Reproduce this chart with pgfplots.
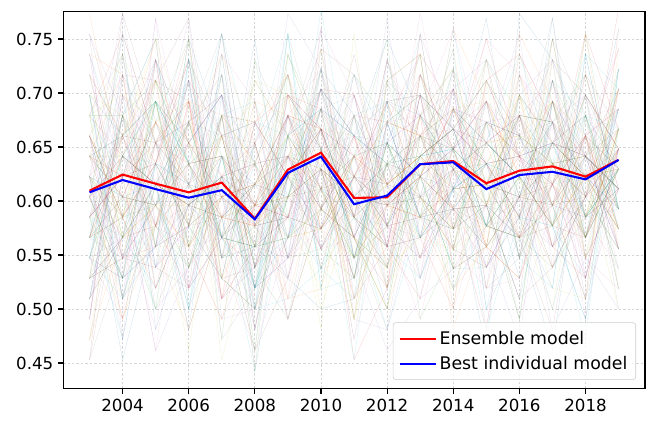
\documentclass[border=0pt]{standalone}
\usepackage{fontspec}
\setmainfont{DejaVu Sans}
\usepackage{pgfplots}
\usepackage{pgfplotstable}
\pgfplotsset{compat=1.18}
\definecolor{tab0}{HTML}{1F77B4}
\definecolor{tab1}{HTML}{FF7F0E}
\definecolor{tab2}{HTML}{2CA02C}
\definecolor{tab3}{HTML}{D62728}
\definecolor{tab4}{HTML}{9467BD}
\definecolor{tab5}{HTML}{8C564B}
\definecolor{tab6}{HTML}{E377C2}
\definecolor{tab7}{HTML}{7F7F7F}
\definecolor{tab8}{HTML}{BCBD22}
\definecolor{tab9}{HTML}{17BECF}
% background models: year, denominator, then 140 numerators (accuracy = k/n)
\pgfplotstableread[header=false]{
2003 53 33 29 37 31 35 27 32 39 30 34 28 36 32 25 33 38 31 29 35 30 34 32 40 27 31 36 33 29 34 30 37 32 26 35 31 33 28 38 30 34 32 36 29 33 31 24 35 30 37 32 34 28 33 31 39 30 35 32 27 34 36 30 26 33 39 28 34 31 37 25 32 35 29 40 33 27 31 36 30 38 34 28 32 24 35 31 37 29 33 41 30 26 34 32 38 29 35 31 27 33 36 30 39 28 32 34 25 37 31 33 29 35 40 27 32 30 36 33 28 38 31 34 26 35 29 32 37 30 33 39 28 31 35 24 34 32 36 29 33 30
2004 53 30 35 28 33 38 31 27 34 36 29 32 40 30 33 26 35 31 37 29 34 32 28 36 30 33 39 31 27 35 32 30 34 37 29 33 25 36 31 32 38 28 34 30 35 33 29 31 36 27 32 34 30 41 33 29 35 31 28 36 32 27 34 38 31 29 36 33 25 35 30 39 32 28 34 37 30 26 33 40 31 35 29 32 38 27 34 30 36 24 33 31 37 29 35 32 28 39 30 34 26 36 31 33 41 29 32 35 27 38 30 34 31 25 36 33 29 37 32 30 35 28 33 39 31 26 34 36 30 32 38 29 35 27 33 31 40 30 34 28 36
2005 52 34 31 29 36 32 38 30 33 27 35 31 34 29 37 32 30 36 28 33 39 31 34 26 32 35 30 37 33 29 31 36 32 34 28 30 38 33 31 35 29 37 32 30 34 24 33 36 31 29 35 32 38 30 33 28 34 31 36 32 30 32 37 28 34 30 39 26 33 36 31 29 35 40 30 27 34 32 38 25 33 36 29 31 37 34 28 32 39 30 35 26 33 31 38 29 36 34 27 32 30 37 33 24 35 31 28 39 32 34 30 36 27 33 29 38 31 35 26 32 37 30 34 28 33 40 31 29 36 32 27 35 30 38 33 25 34 31 36 29 32
2006 52 29 33 36 30 34 28 32 37 31 35 33 27 30 36 34 31 29 38 32 30 35 33 28 31 37 34 30 32 39 29 33 31 35 27 36 32 30 34 31 25 33 37 29 32 35 30 34 28 31 36 33 29 32 38 30 35 31 33 26 34 35 28 31 38 33 26 36 30 34 29 39 32 27 35 31 37 24 33 30 36 28 34 32 40 29 35 31 26 37 33 30 38 27 34 32 29 36 31 25 35 33 39 28 30 37 32 34 26 31 36 29 33 40 30 27 35 32 38 31 34 28 36 30 25 33 37 29 32 35 31 39 27 34 30 36 32 28 33 38 31
2007 53 35 30 32 28 37 33 31 29 36 32 34 30 38 31 27 33 35 29 32 36 30 34 31 28 33 37 32 30 35 26 34 31 33 39 29 32 36 30 34 31 28 35 33 30 37 32 29 34 31 36 30 33 27 35 32 40 31 29 34 33 30 36 33 27 39 31 34 28 37 32 25 35 30 38 33 29 36 31 40 27 34 32 37 30 26 35 33 39 29 31 36 28 34 32 38 30 24 33 37 31 35 29 32 40 27 34 30 36 33 28 38 31 26 35 32 37 29 34 30 39 33 27 36 31 34 25 32 38 30 35 28 33 37 31 29 36 32 40 30 34
2008 52 28 32 30 26 34 29 31 35 27 30 33 28 31 24 29 32 36 30 27 33 29 31 34 28 30 25 32 29 35 31 27 30 33 28 31 37 29 26 32 30 34 28 31 29 23 33 30 27 32 35 29 31 28 34 30 26 32 29 31 33 31 26 33 29 36 24 30 34 27 32 38 28 31 25 35 29 33 23 30 36 27 32 29 34 26 31 37 28 33 30 24 35 29 32 27 38 30 26 33 31 28 35 25 30 34 29 32 36 27 31 23 33 29 35 28 30 37 26 32 34 29 31 25 36 30 27 33 28 39 31 26 34 30 32 24 35 29 33 27 31
2009 53 33 36 31 34 29 37 32 35 30 33 38 31 34 28 36 32 30 35 33 27 34 31 37 32 29 35 33 40 30 34 32 36 28 33 31 35 30 37 34 32 29 33 36 31 34 26 35 32 30 38 33 31 36 29 34 32 35 30 33 37 35 30 38 32 27 36 33 40 29 34 31 37 26 35 32 39 30 33 28 36 34 31 41 29 35 32 37 30 34 27 38 33 31 36 29 35 32 40 30 34 26 37 33 31 38 28 35 32 36 30 39 34 29 33 37 31 35 27 32 38 30 36 33 28 34 40 31 35 29 37 32 26 34 36 30 33 39 31 35 32
2010 54 36 32 34 38 31 35 33 29 37 34 32 36 30 35 39 33 31 34 37 28 35 33 36 31 34 38 32 30 35 33 37 29 34 36 32 41 33 35 31 34 30 36 33 38 32 35 27 34 36 31 33 37 35 32 30 34 36 33 39 31 33 38 30 36 41 32 35 28 39 34 31 37 33 40 29 35 32 38 27 36 34 31 39 33 30 37 35 42 32 34 29 38 36 31 35 33 40 28 34 37 32 36 30 39 33 35 26 38 34 31 36 32 41 30 35 37 33 29 38 34 32 36 31 40 33 35 28 37 34 30 39 32 36 33 38 31 35 29 37 34
2011 53 31 34 28 32 36 30 33 27 35 31 29 33 37 30 32 34 26 31 35 33 30 28 34 32 36 29 31 33 38 30 32 35 29 31 34 27 33 30 36 32 28 34 31 33 30 35 32 24 31 34 29 33 37 30 32 28 35 31 33 29 29 35 32 26 37 30 33 28 36 31 34 24 32 38 29 33 30 35 27 31 36 33 29 39 30 34 26 32 35 28 31 37 30 33 25 34 29 36 32 30 38 27 33 31 35 29 40 32 28 34 30 36 26 33 31 37 29 32 35 27 34 30 38 31 33 25 36 29 32 34 28 35 31 37 30 33 26 34 29 32
2012 52 32 29 35 31 27 34 30 33 36 28 31 35 30 33 29 37 32 30 34 31 26 33 35 29 32 30 36 31 34 28 33 30 32 38 29 31 35 33 30 27 34 32 29 36 31 33 30 35 28 32 34 31 29 33 36 30 32 25 34 31 34 28 31 37 30 25 33 36 29 32 39 27 34 31 35 30 26 33 38 29 32 36 24 31 34 30 37 28 33 35 29 32 40 27 31 34 30 36 33 26 35 29 32 38 30 34 27 31 36 33 28 35 25 32 37 30 33 29 39 31 34 27 32 36 30 35 28 33 26 31 37 29 34 32 38 30 33 27 35 31
2013 53 34 37 31 35 32 29 36 33 30 38 32 35 34 28 33 36 31 34 39 30 35 33 31 37 29 34 32 36 30 33 35 31 27 34 37 32 35 30 33 36 31 34 40 32 29 35 33 31 36 34 30 33 37 32 28 35 34 31 33 36 31 36 33 39 28 35 32 37 30 34 26 38 33 31 36 29 35 40 32 34 30 37 27 33 36 31 39 34 29 35 32 38 30 33 41 31 36 28 34 32 37 30 35 33 26 38 31 34 36 29 33 39 32 35 30 37 34 28 36 31 33 40 32 35 29 37 30 34 38 31 33 27 36 32 35 30 39 34 31 33
2014 54 33 36 30 35 38 32 34 29 37 33 35 31 36 34 30 39 33 35 28 34 32 37 35 31 33 36 30 34 38 32 35 33 29 36 34 31 37 33 35 26 34 32 36 30 35 33 38 31 34 36 32 35 30 33 37 34 31 41 33 35 37 32 35 29 39 34 31 36 33 40 30 35 38 32 27 36 34 31 39 33 35 29 37 32 41 34 30 36 33 38 28 35 32 37 34 31 39 33 36 30 35 27 38 32 34 36 31 40 33 35 29 37 34 32 38 30 36 33 35 28 39 31 34 37 32 36 30 35 33 41 29 34 38 31 36 33 27 35 32 37
2015 52 30 33 35 29 32 36 31 28 34 32 30 37 33 31 27 34 32 35 30 33 29 31 36 32 34 30 28 33 31 35 32 38 30 34 29 33 31 36 32 30 34 25 33 31 35 29 32 34 30 37 31 33 28 32 35 30 34 31 33 29 33 28 36 31 25 34 30 37 32 29 35 39 27 33 31 36 30 34 26 32 38 29 35 31 33 28 37 30 24 34 32 36 29 33 39 31 27 35 30 34 32 37 28 31 36 30 33 26 35 29 38 32 34 30 27 36 31 33 40 29 32 35 28 34 31 37 30 25 33 36 29 32 38 31 34 27 35 30 33 36
2016 53 33 30 36 32 34 29 35 31 33 38 30 34 32 36 28 33 31 35 30 37 32 34 29 33 36 31 35 33 27 34 32 30 36 33 39 31 34 32 35 30 33 36 29 32 34 31 37 33 30 35 26 34 32 36 31 33 35 30 34 32 36 31 34 27 38 33 30 35 32 40 29 34 37 31 26 35 33 39 30 36 32 28 34 37 31 35 29 33 41 30 36 32 25 34 38 31 33 29 36 35 30 39 32 27 34 37 31 33 35 28 36 30 40 32 34 29 37 33 31 38 26 35 32 36 30 34 39 31 28 33 37 32 35 30 36 29 34 38 31 33
2017 52 35 32 29 34 31 37 33 30 35 32 28 34 36 31 33 30 38 32 34 29 33 31 35 30 37 32 34 28 33 36 31 34 30 32 35 29 33 37 31 34 30 32 36 33 29 35 31 34 24 33 36 30 32 35 31 39 33 30 34 32 31 37 34 28 35 30 39 33 26 36 32 29 38 34 31 35 27 33 40 30 36 32 25 34 37 29 33 31 38 30 35 28 36 32 34 39 30 27 33 36 31 35 29 38 32 34 26 37 30 33 35 31 28 36 32 39 30 34 27 33 37 31 35 29 32 40 34 30 36 28 33 31 38 25 35 32 36 30 34 33
2018 53 31 35 33 30 36 32 34 28 33 37 31 34 30 35 32 38 29 33 36 31 34 32 27 35 33 30 36 32 34 31 37 33 30 35 28 34 32 36 31 33 40 30 34 32 35 29 33 31 36 34 30 33 37 31 35 32 29 34 33 31 34 29 37 32 26 35 31 39 33 30 36 28 34 38 31 33 27 36 30 35 32 40 29 34 31 37 33 25 35 30 38 32 34 28 36 31 33 39 30 35 27 34 32 37 29 33 36 31 26 35 30 38 34 32 28 36 33 31 39 30 34 27 37 32 35 29 33 36 31 40 30 34 28 35 32 37 33 26 34 31
2019 54 34 37 32 35 30 36 33 39 31 35 34 32 37 30 35 33 36 29 34 38 32 35 33 31 36 34 30 37 33 35 28 34 36 32 35 33 38 31 34 36 32 35 30 34 37 33 27 35 32 36 34 31 35 33 40 30 34 36 32 35 37 33 30 39 35 28 36 32 41 34 31 38 33 36 29 35 40 32 37 34 30 36 27 38 33 35 31 39 34 36 32 42 30 35 37 33 29 38 34 31 36 40 33 35 28 37 32 34 39 31 36 33 30 38 35 27 34 37 32 36 33 41 31 35 29 38 34 36 32 30 39 33 35 28 37 34 31 36 33 38
}\bgdata
\pgfplotstableread{
year ens best
2003 0.6095 0.6080
2004 0.6244 0.6194
2005 0.6160 0.6110
2006 0.6080 0.6030
2007 0.6170 0.6100
2008 0.5836 0.5830
2009 0.6290 0.6260
2010 0.6447 0.6410
2011 0.6028 0.5970
2012 0.6034 0.6050
2013 0.6340 0.6340
2014 0.6370 0.6358
2015 0.6164 0.6110
2016 0.6280 0.6240
2017 0.6320 0.6270
2018 0.6225 0.6200
2019 0.6380 0.6380
}\maindata
\begin{document}
\begin{tikzpicture}
\begin{axis}[
  scale only axis,
  width=419pt, height=271.4pt,
  xmin=2002.2, xmax=2019.8,
  ymin=0.426, ymax=0.775,
  xtick={2004,2006,...,2018},
  ytick={0.45,0.50,...,0.751},
  /pgf/number format/assume math mode=true,
  xticklabel style={/pgf/number format/1000 sep={}},
  yticklabel style={/pgf/number format/.cd, fixed, fixed zerofill, precision=2},
  tick label style={font=\fontsize{12}{14}\selectfont, black},
  tick align=outside,
  tick pos=left,
  major tick length=3.5pt,
  every tick/.style={black, line width=0.8pt},
  axis line style={black, line width=0.8pt},
  grid=major,
  grid style={black!16, line width=0.5pt, dash pattern=on 1.8pt off 1.4pt},
  legend style={at={(0.9845,0.024)}, anchor=south east,
    font=\fontsize{12.5}{15}\selectfont, draw=black!20, rounded corners=2pt,
    fill=white, fill opacity=0.8, text opacity=1, inner xsep=4pt, inner ysep=4pt,
    row sep=3pt},
  legend cell align=left,
  legend image code/.code={\draw[#1] (0pt,0pt) -- (26pt,0pt);},
]
\pgfplotsinvokeforeach{2,...,141}{
  \pgfmathtruncatemacro\cidx{mod(#1,10)}
  \edef\temp{\noexpand\addplot[forget plot, draw=tab\cidx, line width=0.22pt, opacity=0.22]
    table[x index=0, y expr=\noexpand\thisrowno{#1}/\noexpand\thisrowno{1}] {\noexpand\bgdata};}
  \temp
}
\addplot[red, line width=1.5pt] table[x=year, y=ens] {\maindata};
\addlegendentry{Ensemble model}
\addplot[blue, line width=1.5pt] table[x=year, y=best] {\maindata};
\addlegendentry{Best individual model}
\end{axis}
\pgfresetboundingbox
\path[use as bounding box] (-45.4pt,-31pt) rectangle (426.9pt,280pt);
\end{tikzpicture}
\end{document}
